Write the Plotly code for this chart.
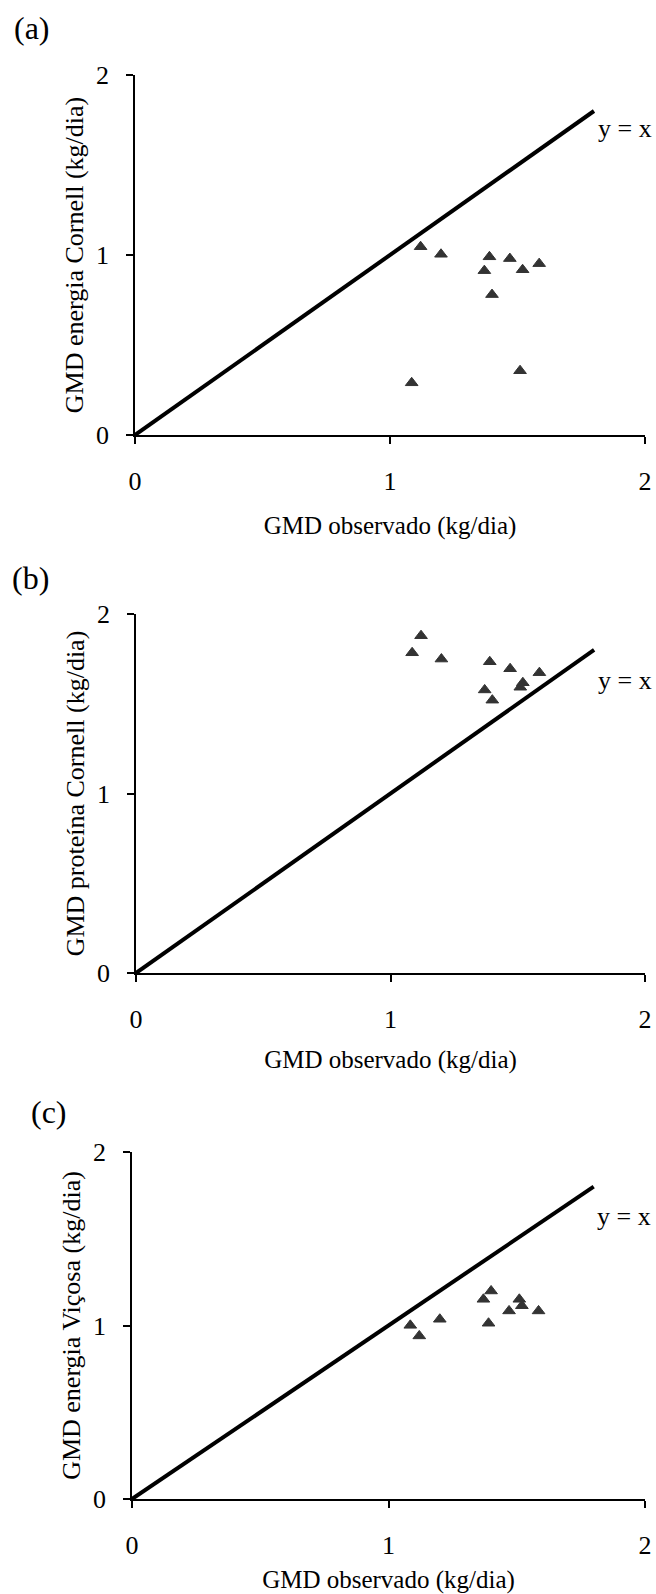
import plotly.graph_objects as go

# ---- data ----
gmd_observado = [1.085, 1.12, 1.20, 1.37, 1.39, 1.40, 1.47, 1.51, 1.52, 1.585]
energia_cornell = [0.29, 1.046, 1.004, 0.913, 0.99, 0.78, 0.98, 0.357, 0.918, 0.952]
proteina_cornell = [1.784, 1.879, 1.749, 1.577, 1.734, 1.52, 1.695, 1.592, 1.617, 1.673]
energia_vicosa = [1.001, 0.94, 1.036, 1.151, 1.013, 1.199, 1.084, 1.151, 1.114, 1.084]
identity_line = [0, 1.8]
tick_values = [0, 1, 2]
tick_labels = ["0", "1", "2"]
panel_labels = ["(a)", "(b)", "(c)"]
y_titles = ["GMD energia Cornell (kg/dia)",
            "GMD proteína Cornell (kg/dia)",
            "GMD energia Viçosa (kg/dia)"]
x_title = "GMD observado (kg/dia)"
series = [energia_cornell, proteina_cornell, energia_vicosa]

W, H = 656, 1594
FONT = "Liberation Serif"


def px_x(p):
    return p / W


def px_y(p):
    return 1 - p / H


# page-pixel geometry of each panel: (left, right, top, bottom)
panels_px = [(135, 645, 75, 435), (136, 645, 614, 973), (132, 645, 1152, 1499)]
panel_label_pos = [(12, 28), (10, 578), (29, 1112)]
xtitle_standoff = [22, 18, 53]
yx_label_y = [1.70, 1.63, 1.63]

fig = go.Figure()
for i, (vals, (l, r, t, b)) in enumerate(zip(series, panels_px)):
    k = "" if i == 0 else str(i + 1)
    xa, ya = "x" + k, "y" + k
    fig.add_trace(go.Scatter(x=identity_line, y=identity_line, mode="lines",
                             line=dict(color="black", width=4),
                             xaxis=xa, yaxis=ya, showlegend=False, hoverinfo="skip"))
    fig.add_trace(go.Scatter(x=gmd_observado, y=vals, mode="markers",
                             marker=dict(symbol="triangle-up", size=11, color="#333333",
                                         line=dict(color="#333333", width=1)),
                             xaxis=xa, yaxis=ya, showlegend=False))
    axcommon = dict(range=[0, 2], tickvals=tick_values, ticktext=tick_labels,
                    showgrid=False, zeroline=False, showline=True, linecolor="black",
                    linewidth=1.5, ticks="outside", ticklen=7, tickwidth=1.5,
                    tickcolor="black", tickfont=dict(family=FONT, size=26, color="black"),
                    automargin=False, fixedrange=True)
    fig.update_layout(**{
        ("xaxis" + k): dict(axcommon, domain=[px_x(l), px_x(r)], anchor=ya,
                            ticklabelstandoff=15,
                            title=dict(text=x_title, standoff=xtitle_standoff[i],
                                       font=dict(family=FONT, size=25, color="black"))),
        ("yaxis" + k): dict(axcommon, domain=[px_y(b), px_y(t)], anchor=xa,
                            ticklabelstandoff=12,
                            title=dict(text=y_titles[i], standoff=5,
                                       font=dict(family=FONT, size=26, color="black"))),
    })
    fig.add_annotation(text="y = x", x=1.92, y=yx_label_y[i], xref=xa, yref=ya,
                       showarrow=False, xanchor="center", yanchor="middle",
                       font=dict(family=FONT, size=26, color="black"))
    lx, ly = panel_label_pos[i]
    fig.add_annotation(text=panel_labels[i], x=px_x(lx), y=px_y(ly), xref="paper", yref="paper",
                       showarrow=False, xanchor="left", yanchor="middle",
                       font=dict(family=FONT, size=32, color="black"))

fig.update_layout(width=W, height=H, autosize=False,
                  margin=dict(l=0, r=0, t=0, b=0),
                  paper_bgcolor="white", plot_bgcolor="white")
# remove the default 8px page margin and scrollbars so the figure fills the window exactly
fig.write_html("out.html",
               config={"displayModeBar": False},
               post_script="document.body.style.margin='0';"
                           "document.documentElement.style.overflow='hidden';"
                           "document.body.style.overflow='hidden';")
